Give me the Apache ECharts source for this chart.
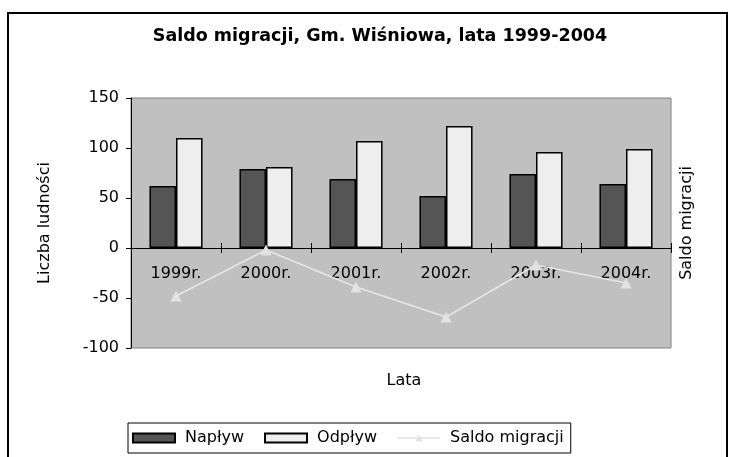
<!DOCTYPE html>
<html>
<head>
<meta charset="utf-8">
<script src="https://cdn.jsdelivr.net/npm/echarts@6/dist/echarts.min.js"></script>
<style>
  html, body { margin: 0; padding: 0; background: #fff; }
  #chart { width: 736px; height: 457px; }
</style>
</head>
<body>
<div id="chart"></div>
<script>
// data
var years = ['1999r.', '2000r.', '2001r.', '2002r.', '2003r.', '2004r.']
var naplyw = [62, 79, 69, 52, 74, 64]
var odplyw = [110, 81, 107, 122, 96, 99]
var saldo = [-48, -2, -39, -69, -17, -35]
var yTicks = { min: -100, max: 150, step: 50 }

var FONT = 'DejaVu Sans'
var chart = echarts.init(document.getElementById('chart'))

var valueAxis = {
  type: 'value',
  min: yTicks.min,
  max: yTicks.max,
  interval: yTicks.step,
  splitLine: { show: false }
}

chart.setOption({
  animation: false,
  backgroundColor: '#fff',
  textStyle: { fontFamily: FONT, color: '#000' },
  graphic: [
    {
      type: 'rect',
      shape: { x: 8, y: 13, width: 719, height: 470 },
      style: { fill: 'none', stroke: '#000', lineWidth: 2 },
      silent: true
    },
    {
      type: 'text',
      x: 380, y: 36,
      style: {
        text: 'Saldo migracji, Gm. Wiśniowa, lata 1999-2004',
        font: 'bold 17.5px "DejaVu Sans"',
        fill: '#000', align: 'center', verticalAlign: 'middle'
      }
    },
    {
      type: 'text',
      x: 404, y: 381,
      style: {
        text: 'Lata',
        font: '16px "DejaVu Sans"',
        fill: '#000', align: 'center', verticalAlign: 'middle'
      }
    }
  ],
  legend: {
    left: 128,
    top: 423,
    padding: [7, 7, 7, 4],
    borderColor: '#000',
    borderWidth: 1,
    itemWidth: 42,
    itemHeight: 9,
    itemGap: 20,
    textStyle: { fontFamily: FONT, fontSize: 16, color: '#000', padding: [0, 0, 0, 5] },
    data: [
      { name: 'Napływ', icon: 'rect' },
      { name: 'Odpływ', icon: 'rect' },
      'Saldo migracji'
    ]
  },
  grid: {
    left: 131,
    right: 65,
    top: 98,
    bottom: 109,
    show: true,
    backgroundColor: '#c0c0c0',
    borderColor: '#808080',
    borderWidth: 1
  },
  xAxis: [
    {
      type: 'category',
      data: years,
      axisLine: { onZero: true, lineStyle: { color: '#000', width: 1 } },
      axisTick: { show: true, length: 5, lineStyle: { color: '#000' } },
      // labels sit just under the zero line, inside the plot
      axisLabel: { margin: -82, fontSize: 16, color: '#000', fontFamily: FONT }
    },
    {
      // second copy on top so the ticks cross the zero line
      type: 'category',
      data: years,
      position: 'top',
      axisLine: { onZero: true, onZeroAxisIndex: 0, lineStyle: { color: '#000', width: 1 } },
      axisTick: { show: true, length: 5, lineStyle: { color: '#000' } },
      axisLabel: { show: false }
    }
  ],
  yAxis: [
    Object.assign({}, valueAxis, {
      name: 'Liczba ludności',
      nameLocation: 'middle',
      nameGap: 78,
      nameTextStyle: { fontSize: 16, color: '#000', fontFamily: FONT },
      axisLine: { show: true, onZero: false, lineStyle: { color: '#000', width: 1 } },
      axisTick: { show: true, length: 5, lineStyle: { color: '#000' } },
      axisLabel: { margin: 12, fontSize: 16, color: '#000', fontFamily: FONT }
    }),
    Object.assign({}, valueAxis, {
      name: 'Saldo migracji',
      nameLocation: 'middle',
      nameGap: 8,
      nameRotate: 90,
      nameTextStyle: { fontSize: 16, color: '#000', fontFamily: FONT },
      axisLine: { show: false, onZero: false },
      axisTick: { show: false },
      axisLabel: { show: false }
    })
  ],
  series: [
    {
      name: 'Napływ',
      type: 'bar',
      data: naplyw,
      barGap: '0%',
      barCategoryGap: '41%',
      itemStyle: { color: '#555555', borderColor: '#000', borderWidth: 1.5 }
    },
    {
      name: 'Odpływ',
      type: 'bar',
      data: odplyw,
      itemStyle: { color: '#eeeeee', borderColor: '#000', borderWidth: 1.5 }
    },
    {
      name: 'Saldo migracji',
      type: 'line',
      yAxisIndex: 1,
      data: saldo,
      symbol: 'triangle',
      symbolSize: 11,
      z: 5,
      lineStyle: { color: '#e6e6e6', width: 1.5 },
      itemStyle: { color: '#e2e2e2' }
    }
  ]
})
</script>
</body>
</html>
